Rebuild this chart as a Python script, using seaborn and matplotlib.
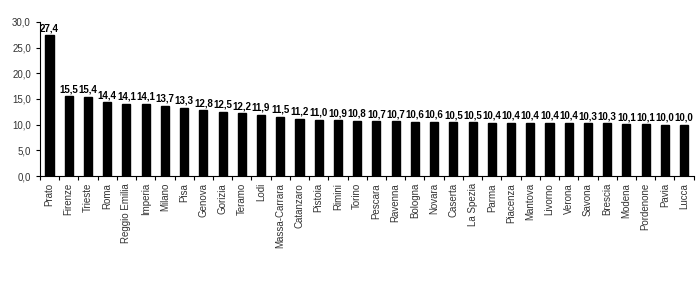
import matplotlib
matplotlib.use("Agg")
import matplotlib.pyplot as plt
import matplotlib.ticker as mticker
import seaborn as sns
import pandas as pd
import numpy as np

cities = ["Prato", "Firenze", "Trieste", "Roma", "Reggio Emilia", "Imperia", "Milano",
          "Pisa", "Genova", "Gorizia", "Teramo", "Lodi", "Massa-Carrara", "Catanzaro",
          "Pistoia", "Rimini", "Torino", "Pescara", "Ravenna", "Bologna", "Novara",
          "Caserta", "La Spezia", "Parma", "Piacenza", "Mantova", "Livorno", "Verona",
          "Savona", "Brescia", "Modena", "Pordenone", "Pavia", "Lucca"]
values = [27.4, 15.5, 15.4, 14.4, 14.1, 14.1, 13.7, 13.3, 12.8, 12.5, 12.2, 11.9, 11.5,
          11.2, 11.0, 10.9, 10.8, 10.7, 10.7, 10.6, 10.6, 10.5, 10.5, 10.4, 10.4, 10.4,
          10.4, 10.4, 10.3, 10.3, 10.1, 10.1, 10.0, 10.0]
yticks = [0, 5, 10, 15, 20, 25, 30]

sns.set_style("white")
plt.rcParams['font.family'] = ['Liberation Sans', 'DejaVu Sans']

df = pd.DataFrame({"city": cities, "value": values})
fig = plt.figure(figsize=(7, 3), dpi=100)
ax = fig.add_axes([0.057, 0.413, 0.934, 0.514])
sns.barplot(data=df, x="city", y="value", color="black", width=0.42, ax=ax,
            saturation=1, edgecolor="black")

ax.set_xlim(-0.5, len(cities) - 0.5)
ax.set_ylim(0, 30)
ax.set_yticks(yticks)
ax.yaxis.set_major_formatter(mticker.FuncFormatter(lambda v, p: f"{v:.1f}".replace(".", ",")))
ax.set_xlabel("")
ax.set_ylabel("")
ax.set_xticks(range(len(cities)))
ax.set_xticklabels(cities, rotation=90, fontsize=7, color="#333333")
ax.tick_params(axis="x", which="major", length=0, pad=5)
ax.set_xticks(np.arange(-0.5, len(cities), 1), minor=True)
ax.tick_params(axis="x", which="minor", length=3, direction="out", color="black", width=0.8, bottom=True)
ax.tick_params(axis="y", length=3, direction="out", color="black", width=0.8, labelsize=7, left=True,
               labelcolor="#333333")
for s in ["top", "right"]:
    ax.spines[s].set_visible(False)
for s in ["left", "bottom"]:
    ax.spines[s].set_color("black")
    ax.spines[s].set_linewidth(0.8)

for i, v in enumerate(values):
    ax.text(i, v + 0.4, f"{v:.1f}".replace(".", ","), ha="center", va="bottom",
            fontsize=7, fontweight="bold", color="black")

fig.savefig("out.png", dpi=100)
